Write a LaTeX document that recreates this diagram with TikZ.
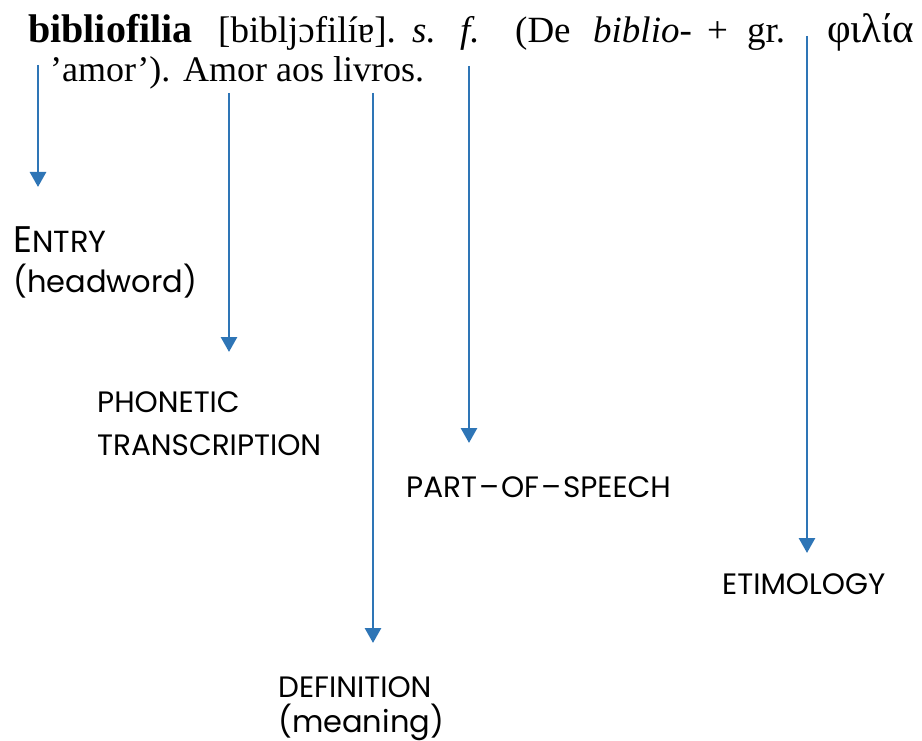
\documentclass[tikz,border=0pt]{standalone}
\usepackage{fontspec}
\setmainfont{Liberation Serif}
\newfontfamily\labelfont{Poppins}
\usetikzlibrary{arrows.meta}
\definecolor{arrowblue}{HTML}{2E75B6}
\begin{document}
\begin{tikzpicture}[x=1pt,y=-1pt,
  word/.style={anchor=base west, inner sep=0pt, font=\fontsize{37}{40}\selectfont},
  tag/.style={anchor=base west, inner sep=0pt, font=\labelfont\fontsize{29.5}{34}\selectfont},
  bigtag/.style={anchor=base west, inner sep=0pt, font=\labelfont\fontsize{30.5}{36}\selectfont},
  pointer/.style={draw=arrowblue, line width=2.8pt, -{Triangle[width=16pt,length=15pt]}}]
\useasboundingbox (0,0) rectangle (922,741);

% dictionary entry, first line
\node[word, font=\fontsize{40}{44}\selectfont] (head) at (28,43) {\textbf{bibliofilia}};
\node[word] (pron) at (218,43) {[bibljɔfilíɐ].};
\node[word] (pos1) at (412,43) {\textit{s.}};
\node[word] (pos2) at (460,43) {\textit{f.}};
\node[word] (de)   at (515,43) {(De};
\node[word] (bib)  at (593,43) {\textit{biblio-}};
\node[word] (plus) at (707,43) {+};
\node[word] (gr)   at (747,43) {gr.};
\node[word, font=\fontsize{41}{44}\selectfont] (greek) at (827,43) {φιλία};
% second line
\node[word, font=\fontsize{36}{40}\selectfont] (amor) at (50,82) {’amor’).};
\node[word, font=\fontsize{36}{40}\selectfont] (defn) at (183,82) {Amor aos livros.};

% labels
\node[bigtag] (entry) at (13,253) {{\fontsize{37}{40}\selectfont E}NTRY};
\node[bigtag] (entry2) at (13,292) {(headword)};
\node[tag] (phon) at (97,412) {PHONETIC};
\node[tag] (phon2) at (97,455) {TRANSCRIPTION};
\node[tag] (speech) at (406,497) {PART\kern2pt–\kern2pt OF\kern2pt–\kern2pt SPEECH};
\node[tag] (etym) at (722,594) {ETIMOLOGY};
\node[tag] (def) at (278,697) {DEFINITION};
\node[bigtag] (def2) at (278,732) {(meaning)};

% pointer ends
\coordinate (s1) at (38,65);   \coordinate (e1) at (38,187);
\coordinate (s2) at (229,93);  \coordinate (e2) at (229,352);
\coordinate (s3) at (373,93);  \coordinate (e3) at (373,643);
\coordinate (s4) at (469,66);  \coordinate (e4) at (469,443);
\coordinate (s5) at (807,36);  \coordinate (e5) at (807,553);

\draw[pointer] (s1) -- (e1);
\draw[pointer] (s2) -- (e2);
\draw[pointer] (s3) -- (e3);
\draw[pointer] (s4) -- (e4);
\draw[pointer] (s5) -- (e5);
\end{tikzpicture}
\end{document}
